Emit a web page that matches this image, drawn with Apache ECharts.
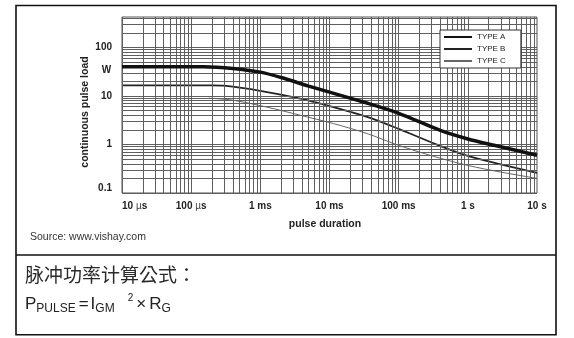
<!DOCTYPE html>
<html>
<head>
<meta charset="utf-8">
<script src="https://cdn.jsdelivr.net/npm/echarts@6/dist/echarts.min.js"></script>
<style>
  html, body { margin: 0; padding: 0; background: #fff; }
  #chart { width: 574px; height: 338px; }
</style>
</head>
<body>
<div id="chart"></div>
<script>
// Continuous pulse load (W) versus pulse duration (s), three resistor types.
const seriesNames = ['TYPE A', 'TYPE B', 'TYPE C'];

const durationA = [1e-5, 1.5e-4, 4e-4, 1e-3, 2e-3, 5e-3, 0.01, 0.03, 0.1, 0.4, 1, 2.5, 10];
const loadA     = [40,   40,     37,   31,   24,   16,   12,   7.6,  4.4, 1.95, 1.3, 0.95, 0.6];

const durationB = [1e-5, 2e-4, 3e-4, 1e-3, 3.8e-3, 0.0114, 0.035, 0.1, 0.32, 1,    3,    10];
const loadB     = [16.6, 16.6, 16.3, 12.8, 8.8,    5.9,    3.7,   2.1, 1.06, 0.58, 0.39, 0.26];

const durationC = [1.8e-4, 4e-4, 1.24e-3, 3.8e-3, 0.0114, 0.035, 0.1,  0.32, 1,    3,    10];
const loadC     = [9,      8.2,  5.9,     4.0,    2.7,    1.68,  0.96, 0.57, 0.37, 0.27, 0.2];

const xTickLabels = ['10 µs', '100 µs', '1 ms', '10 ms', '100 ms', '1 s', '10 s'];
const yTickLabels = ['0.1', '1', '10', '100'];

const FONT = '"Liberation Sans", Arial, Helvetica, sans-serif';
const X_MIN = 1e-5, X_MAX = 10;
const Y_MIN = 0.1, Y_MAX = 425;

// Label only the decade ticks of a log axis.
function decadeLabel(v, labels, firstExp) {
  const e = Math.log10(v);
  const r = Math.round(e);
  if (Math.abs(e - r) > 1e-6) return '';
  return labels[r - firstExp] || '';
}

// 1..9 per decade grid values between two exponents, capped at an upper limit.
function logGridValues(minExp, maxExp, cap) {
  const out = [];
  for (let e = minExp; e <= maxExp; e++) {
    for (let m = 1; m <= 9; m++) {
      const v = m * Math.pow(10, e);
      if (v <= cap * 1.0001) out.push(v);
    }
  }
  return out;
}

const gridLines = []
  .concat(logGridValues(-5, 0, X_MAX).map(v => ({ xAxis: v })))
  .concat(logGridValues(-1, 2, Y_MAX).map(v => ({ yAxis: v })));

const pairs = (xs, ys) => xs.map((x, i) => [x, ys[i]]);

const chart = echarts.init(document.getElementById('chart'), null, { renderer: 'canvas' });

chart.setOption({
  animation: false,
  backgroundColor: '#fff',
  grid: {
    left: 122, top: 17, width: 415, height: 176,
    show: true, borderColor: '#555', borderWidth: 1,
    outerBoundsMode: 'none'
  },
  xAxis: {
    type: 'log', logBase: 10, min: X_MIN, max: X_MAX,
    axisLine: { show: false }, axisTick: { show: false }, splitLine: { show: false },
    axisLabel: {
      margin: 8, fontSize: 10, fontWeight: 'bold', color: '#222', fontFamily: FONT,
      alignMinLabel: 'left',
      formatter: v => decadeLabel(v, xTickLabels, -5).replace('µ', '{u|µ}'),
      rich: { u: { fontWeight: 'normal', fontSize: 10, color: '#444', fontFamily: FONT } }
    }
  },
  yAxis: {
    type: 'log', logBase: 10, min: Y_MIN, max: Y_MAX,
    axisLine: { show: false }, axisTick: { show: false }, splitLine: { show: false },
    axisLabel: {
      margin: 10, fontSize: 10, fontWeight: 'bold', color: '#222', fontFamily: FONT,
      showMaxLabel: false, verticalAlignMinLabel: 'bottom',
      formatter: v => decadeLabel(v, yTickLabels, -1)
    }
  },
  legend: {
    data: seriesNames,
    orient: 'vertical', left: 440, top: 30,
    padding: [3, 15, 3, 3],
    itemWidth: 28, itemHeight: 8, itemGap: 4,
    borderColor: '#333', borderWidth: 1, backgroundColor: '#fff',
    itemStyle: { opacity: 0 },
    textStyle: { fontSize: 8, color: '#222', fontFamily: FONT },
    z: 6
  },
  series: [
    {
      name: 'grid', type: 'line', data: [], z: 1, silent: true,
      markLine: {
        silent: true, precision: 12, symbol: ['none', 'none'], label: { show: false },
        lineStyle: { color: '#5f5f5f', width: 1, type: 'solid' },
        data: gridLines
      }
    },
    {
      name: seriesNames[0], type: 'line', data: pairs(durationA, loadA),
      symbol: 'none', smooth: 0.3, z: 5,
      lineStyle: { color: '#111', width: 3.5 }, itemStyle: { color: '#111' }
    },
    {
      name: seriesNames[1], type: 'line', data: pairs(durationB, loadB),
      symbol: 'none', smooth: 0.3, z: 4,
      lineStyle: { color: '#222', width: 1.8 }, itemStyle: { color: '#222' }
    },
    {
      name: seriesNames[2], type: 'line', data: pairs(durationC, loadC),
      symbol: 'none', smooth: 0.3, z: 3,
      lineStyle: { color: '#666', width: 1 }, itemStyle: { color: '#666' }
    }
  ],
  graphic: [
    // outer frame and divider
    { type: 'rect', z: 0, shape: { x: 16, y: 5.5, width: 540, height: 329.3 },
      style: { fill: 'none', stroke: '#111', lineWidth: 1.6 } },
    { type: 'line', z: 0, shape: { x1: 16, y1: 255, x2: 556, y2: 255 },
      style: { stroke: '#111', lineWidth: 1.6 } },
    // axis titles and unit
    { type: 'text', x: 85, y: 112, rotation: Math.PI / 2,
      style: { text: 'continuous pulse load', fill: '#222', font: 'bold 10.5px ' + FONT,
               align: 'center', verticalAlign: 'middle' } },
    { type: 'text', x: 325, y: 224,
      style: { text: 'pulse duration', fill: '#222', font: 'bold 10.5px ' + FONT,
               align: 'center', verticalAlign: 'middle' } },
    { type: 'text', x: 106.5, y: 70,
      style: { text: 'W', fill: '#222', font: 'bold 10px ' + FONT,
               align: 'center', verticalAlign: 'middle' } },
    { type: 'text', x: 30, y: 237.5,
      style: { text: 'Source: www.vishay.com', fill: '#333', font: '10.5px ' + FONT,
               align: 'left', verticalAlign: 'middle' } },
    // formula block
    { type: 'text', x: 25, y: 275,
      style: { text: '脉冲功率计算公式：', fill: '#2a2a2a',
               font: '19px "Noto Sans CJK TC", "Noto Sans CJK SC", sans-serif',
               align: 'left', verticalAlign: 'middle' } },
    { type: 'text', x: 25, y: 304,
      style: {
        text: '{m|P}{s|PULSE}{o|=}{i|I}{s|GM}{sup|2}{o|×}{r|R}{s|G}',
        fill: '#222', align: 'left', verticalAlign: 'middle',
        rich: {
          m:   { fontSize: 17, fontFamily: FONT, lineHeight: 22, fill: '#222' },
          i:   { fontSize: 17, fontFamily: FONT, lineHeight: 22, fill: '#222', padding: [0, 0, 0, 2] },
          r:   { fontSize: 17, fontFamily: FONT, lineHeight: 22, fill: '#222', padding: [0, 0, 0, 3] },
          o:   { fontSize: 17, fontFamily: FONT, lineHeight: 22, fill: '#222', padding: [0, 0, 0, 3] },
          s:   { fontSize: 12, fontFamily: FONT, lineHeight: 12, fill: '#222', verticalAlign: 'bottom' },
          sup: { fontSize: 10, fontFamily: FONT, lineHeight: 10, fill: '#222', verticalAlign: 'top', padding: [0, 0, 0, 13] }
        }
      } }
  ]
});
</script>
</body>
</html>
